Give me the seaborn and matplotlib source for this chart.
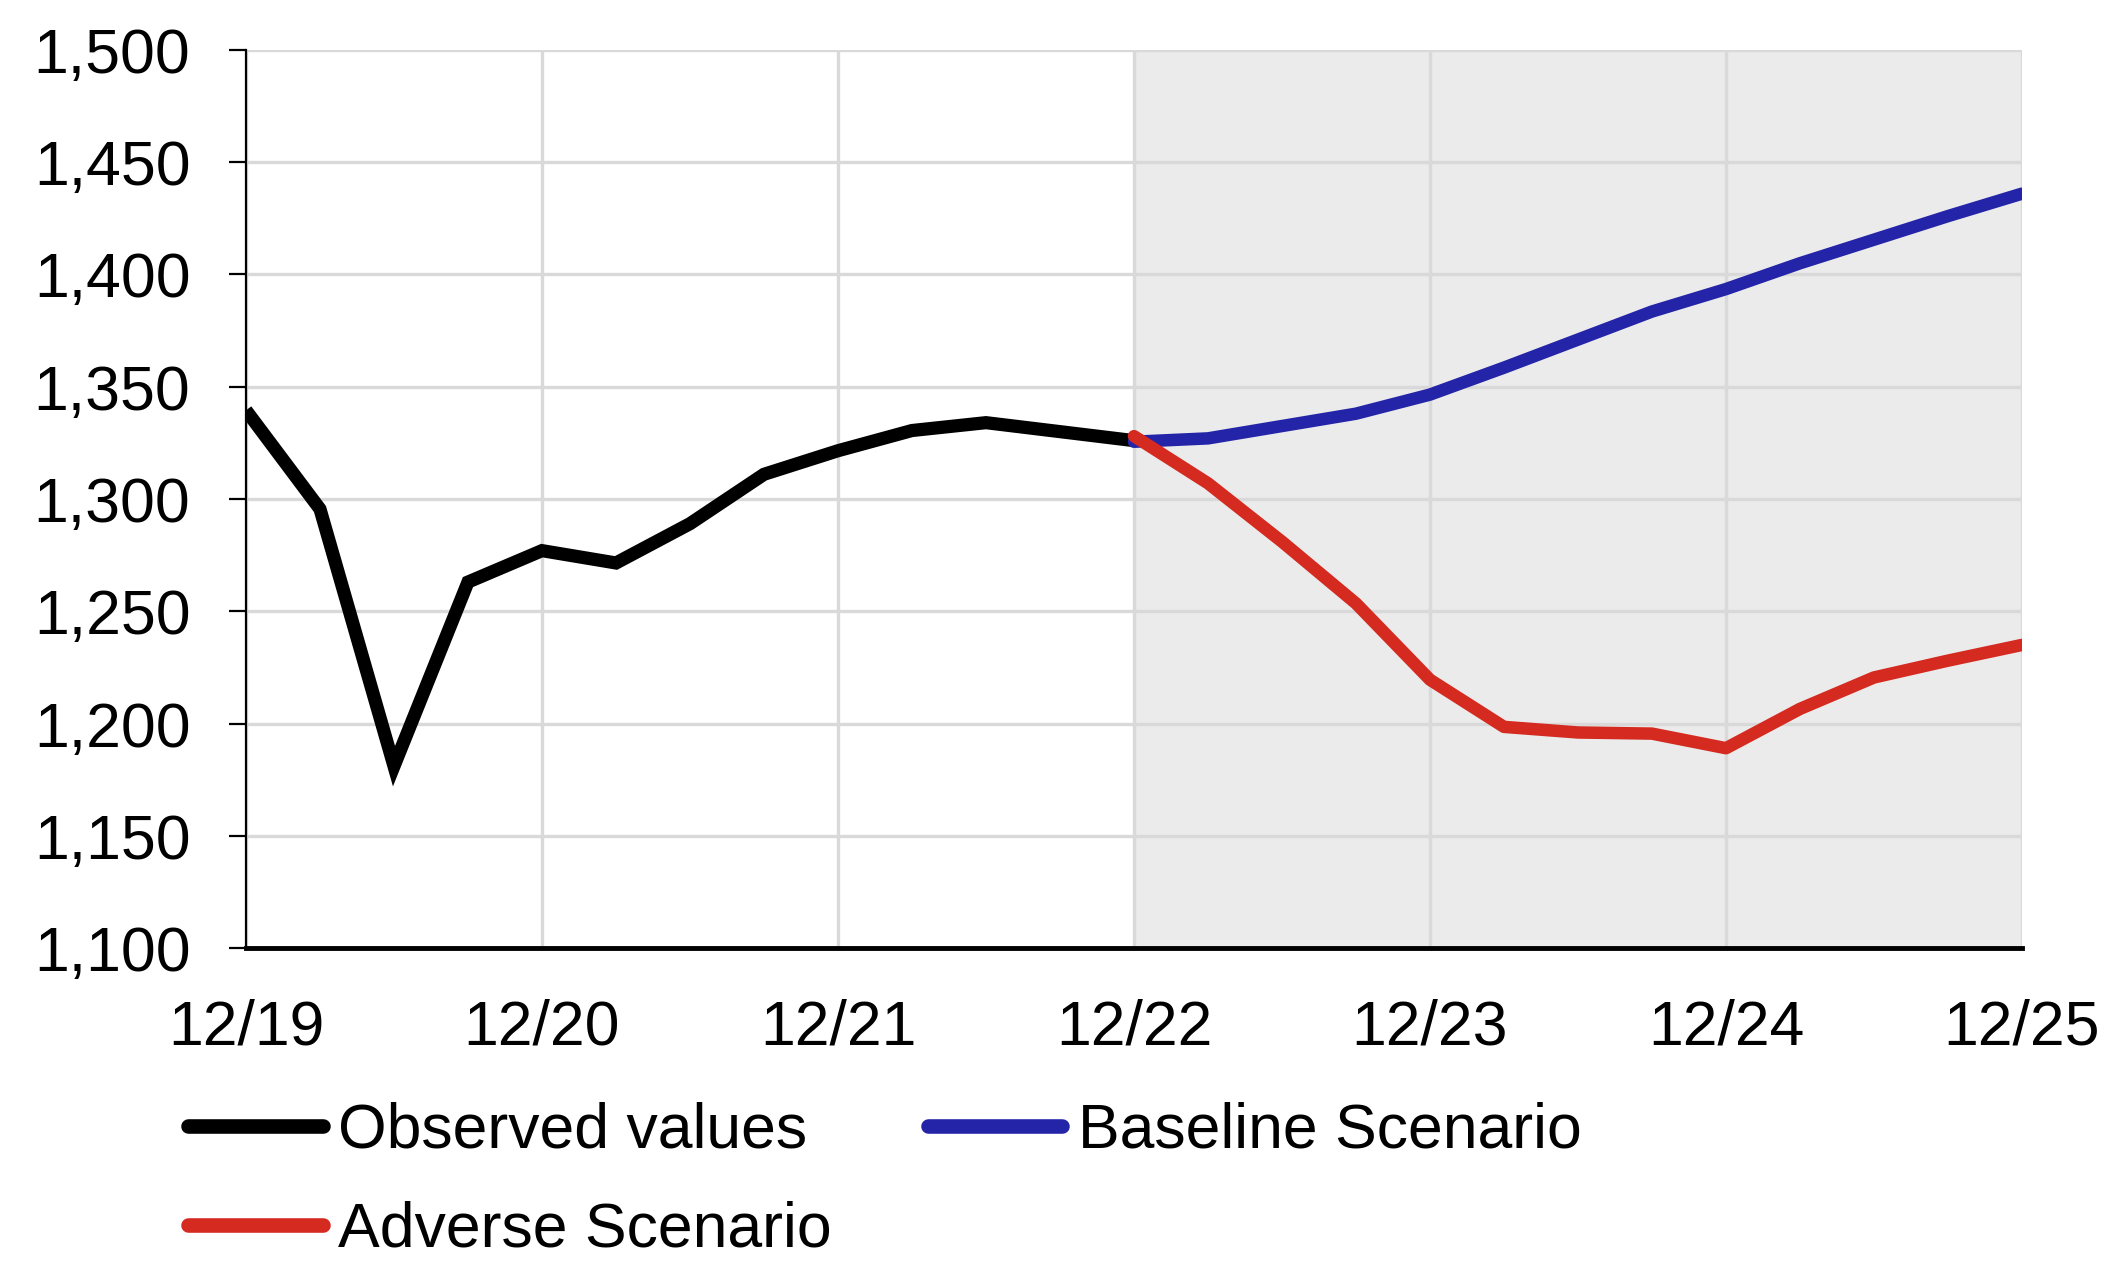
import matplotlib
matplotlib.use("Agg")
import matplotlib.pyplot as plt
import numpy as np
import pandas as pd
import seaborn as sns

# Quarterly index, 12/19 .. 12/25
year_labels = ["12/19", "12/20", "12/21", "12/22", "12/23", "12/24", "12/25"]

observed = [1339.5, 1295.5, 1181, 1263, 1277, 1271.5, 1289, 1311, 1321.5,
            1330.5, 1334, 1330, 1326]
baseline = [1325.5, 1327, 1332.5, 1338, 1346.5, 1358.5, 1371, 1383.5, 1393.5,
            1405, 1415.5, 1426, 1436]
adverse = [1328, 1307, 1281, 1253.5, 1219.5, 1198.5, 1196, 1195.5, 1189,
           1206.5, 1220.5, 1228, 1235]

obs_q = np.arange(len(observed))
proj_q = np.arange(len(observed) - 1, len(observed) - 1 + len(baseline))

df_obs = pd.DataFrame({"q": obs_q, "v": observed, "s": "Observed values"})
df_base = pd.DataFrame({"q": proj_q, "v": baseline, "s": "Baseline Scenario"})
df_adv = pd.DataFrame({"q": proj_q, "v": adverse, "s": "Adverse Scenario"})

sns.set_theme(style="white")
plt.rcParams["font.family"] = ["Liberation Sans", "DejaVu Sans"]
plt.rcParams["text.color"] = "black"
plt.rcParams["xtick.color"] = "black"
plt.rcParams["ytick.color"] = "black"

fig = plt.figure(figsize=(21.17, 12.62), dpi=100)
ax = fig.add_axes([0.1162, 0.2488, 0.9551 - 0.1162, 0.9604 - 0.2488])

# projection period shading
ax.axvspan(12, 24, color="#EBEBEB", zorder=0, lw=0)

BLACK, BLUE, RED = "#000000", "#2424A8", "#D42A20"
sns.lineplot(data=df_obs, x="q", y="v", ax=ax, color=BLACK, lw=9.5,
             solid_capstyle="butt", solid_joinstyle="miter", label="Observed values",
             zorder=3)
sns.lineplot(data=df_base, x="q", y="v", ax=ax, color=BLUE, lw=9,
             solid_capstyle="round", label="Baseline Scenario", zorder=4)
sns.lineplot(data=df_adv, x="q", y="v", ax=ax, color=RED, lw=9,
             solid_capstyle="round", label="Adverse Scenario", zorder=5)

ax.set_xlim(0, 24)
ax.set_ylim(1100, 1500)
ax.set_xticks(np.arange(0, 25, 4))
ax.set_xticklabels(year_labels)
ax.set_yticks(np.arange(1100, 1501, 50))
ax.yaxis.set_major_formatter(matplotlib.ticker.FuncFormatter(lambda v, p: f"{v:,.0f}"))
ax.set_xlabel("")
ax.set_ylabel("")

ax.grid(True, color="#D9D9D9", lw=2.4, zorder=1)
ax.set_axisbelow(True)

for s in ("top", "right"):
    ax.spines[s].set_visible(False)
ax.spines["left"].set_color("black")
ax.spines["left"].set_linewidth(1.6)
ax.spines["bottom"].set_color("black")
ax.spines["bottom"].set_linewidth(3.5)

ax.tick_params(axis="y", which="major", direction="out", length=12, width=1.6,
               color="black", left=True, labelsize=45, pad=28, labelcolor="black")
ax.tick_params(axis="x", which="major", length=0, labelsize=45, pad=36,
               labelcolor="black")

handles, labels = ax.get_legend_handles_labels()
ax.get_legend().remove()
order = [0, 2, 1]
leg = fig.legend([handles[i] for i in order], [labels[i] for i in order],
                 loc="upper left", bbox_to_anchor=(0.089, 0.127),
                 ncol=2, frameon=False, fontsize=45, handlelength=2.15,
                 handletextpad=0.25, columnspacing=1.53, labelspacing=0.64,
                 borderaxespad=0, borderpad=0)
for t in leg.get_texts():
    t.set_color("black")
for h in leg.get_lines():
    h.set_linewidth(10.5)
    h.set_solid_capstyle("round")

fig.savefig("out.png", dpi=100)
